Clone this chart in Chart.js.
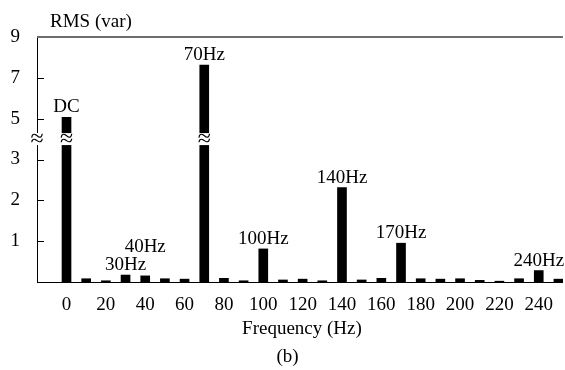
<!DOCTYPE html>
<html><head><meta charset="utf-8">
<script src="https://cdn.jsdelivr.net/npm/chart.js@4"></script>
<style>html,body{margin:0;padding:0;background:#fff}</style>
</head><body>
<canvas id="c" width="565" height="370"></canvas>
<script>
// ---- data ----
const frequencies = [0,10,20,30,40,50,60,70,80,90,100,110,120,130,140,150,160,170,180,190,200,210,220,230,240,250];
const rmsValues   = [5.07,0.08,0.03,0.17,0.15,0.08,0.07,7.63,0.09,0.03,0.81,0.05,0.07,0.03,2.31,0.05,0.09,0.95,0.08,0.07,0.08,0.04,0.02,0.08,0.28,0.07];
const peakLabels  = ['DC','','','30Hz','40Hz','','','70Hz','','','100Hz','','','','140Hz','','','170Hz','','','','','','','240Hz',''];
const xTickValues = [0,20,40,60,80,100,120,140,160,180,200,220,240];
const yTickValues = [1,2,3,5,7,9];
const yAxisTitle = 'RMS (var)';
const xAxisTitle = 'Frequency (Hz)';
const subCaption = '(b)';
const breakValue = 3;      // axis is broken above this value
const breakCompression = 2; // above the break, 2 units per grid step

// ---- broken-axis mapping ----
function toAxis(v){ return v <= breakValue ? v : breakValue + (v - breakValue) / breakCompression; }
function fromAxis(d){ return d <= breakValue ? d : breakValue + (d - breakValue) * breakCompression; }

const FONT = "'Liberation Serif', Tinos, 'Times New Roman', 'DejaVu Serif', serif";
const FS = 19;

const extrasPlugin = {
  id: 'extras',
  afterDraw(chart){
    const ctx = chart.ctx, ca = chart.chartArea;
    const ys = chart.scales.y;
    ctx.save();
    // top frame line
    ctx.strokeStyle = '#6e6e6e'; ctx.lineWidth = 2;
    ctx.beginPath(); ctx.moveTo(ca.left, ca.top); ctx.lineTo(ca.right, ca.top); ctx.stroke();
    // inward tick marks
    ctx.strokeStyle = '#000'; ctx.lineWidth = 1;
    yTickValues.forEach(v => {
      if (v >= 9) return;
      const y = Math.round(ys.getPixelForValue(toAxis(v))) + 0.5;
      ctx.beginPath(); ctx.moveTo(ca.left, y); ctx.lineTo(ca.left + 7, y); ctx.stroke();
    });
    // break marks
    const by = ys.getPixelForValue(toAxis(breakValue) + 0.5);
    const meta = chart.getDatasetMeta(0);
    const breakXs = [ca.left];
    meta.data.forEach((el, i) => { if (rmsValues[i] > breakValue) breakXs.push(el.x); });
    ctx.textAlign = 'center'; ctx.textBaseline = 'middle';
    ctx.font = '24px ' + FONT;
    breakXs.forEach(x => {
      ctx.fillStyle = '#fff';
      ctx.fillRect(x - 8, by - 6, 16, 12);
      ctx.fillStyle = '#000';
      ctx.fillText('\u2248', x, by + 1);
    });
    ctx.font = FS + 'px ' + FONT;
    // peak labels
    meta.data.forEach((el, i) => {
      const t = peakLabels[i];
      if (!t) return;
      const lift = (frequencies[i] === 40) ? 29 : 10;
      ctx.fillText(t, el.x, el.y - lift);
    });
    // titles
    ctx.textAlign = 'left';
    ctx.fillText(yAxisTitle, 50, 22);
    ctx.textAlign = 'center';
    ctx.fillText(xAxisTitle, (ca.left + ca.right) / 2 + 2, 329);
    ctx.fillText(subCaption, chart.width / 2 + 5, 357);
    ctx.restore();
  }
};

new Chart(document.getElementById('c'), {
  type: 'bar',
  data: {
    datasets: [{
      data: frequencies.map((f, i) => ({ x: f, y: toAxis(rmsValues[i]) })),
      backgroundColor: '#000',
      borderWidth: 0,
      barThickness: 9
    }]
  },
  options: {
    responsive: false,
    animation: false,
    devicePixelRatio: 1,
    layout: { padding: { top: 37, left: 0, right: 0, bottom: 0 } },
    plugins: { legend: { display: false }, tooltip: { enabled: false } },
    scales: {
      x: {
        type: 'linear', min: -15, max: 252.3, offset: false,
        grid: { display: false, drawTicks: false, offset: false },
        border: { display: true, color: '#000', width: 1 },
        ticks: { font: { family: FONT, size: FS }, color: '#000', padding: 12, maxRotation: 0, autoSkip: false,
                 callback: v => String(v) },
        afterBuildTicks: s => { s.ticks = xTickValues.map(v => ({ value: v })); },
        afterFit: s => { s.height = 88; }
      },
      y: {
        min: 0, max: 6,
        grid: { display: false, drawTicks: false },
        border: { display: true, color: '#000', width: 1 },
        ticks: { font: { family: FONT, size: FS }, color: '#000', padding: 17,
                 callback: v => String(fromAxis(v)) },
        afterBuildTicks: s => { s.ticks = yTickValues.map(v => ({ value: toAxis(v) })); },
        afterFit: s => { s.width = 37; }
      }
    }
  },
  plugins: [extrasPlugin]
});
</script>
</body></html>
